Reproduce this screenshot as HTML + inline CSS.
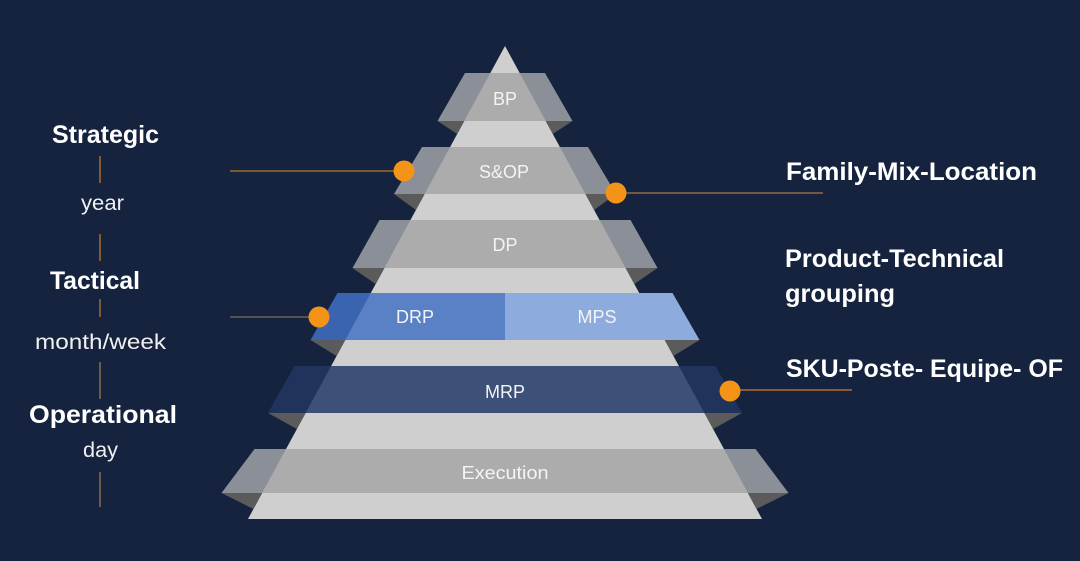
<!DOCTYPE html>
<html>
<head>
<meta charset="utf-8">
<style>
html,body{margin:0;padding:0;background:#15233f;}
svg{display:block;}
text{font-family:"Liberation Sans",sans-serif;}
</style>
</head>
<body>
<svg width="1080" height="561" viewBox="0 0 1080 561" xmlns="http://www.w3.org/2000/svg">
<rect x="0" y="0" width="1080" height="561" fill="#15233f"/>

<!-- pyramid -->
<polygon points="505,46 762,519 248,519" fill="#d0cfcf"/>

<!-- shadows (gray) -->
<g fill="#5b5b5b">
  <!-- BP -->
  <polygon points="437.5,121 464.25,121 457.19,134"/>
  <polygon points="572.5,121 545.75,121 552.81,134"/>
  <!-- S&OP -->
  <polygon points="394,194 424.59,194 415.89,210"/>
  <polygon points="616,194 585.41,194 594.11,210"/>
  <!-- DP -->
  <polygon points="352.5,268 384.38,268 375.69,284"/>
  <polygon points="657.5,268 625.62,268 634.31,284"/>
  <!-- DRP/MPS -->
  <polygon points="310.5,340 345.26,340 336.56,356"/>
  <polygon points="699.5,340 664.74,340 673.44,356"/>
  <!-- MRP -->
  <polygon points="268,413 305.59,413 296.90,429"/>
  <polygon points="742,413 704.41,413 713.10,429"/>
  <!-- Execution -->
  <polygon points="221.5,493 262.13,493 253.43,509"/>
  <polygon points="788.5,493 747.87,493 756.57,509"/>
</g>

<!-- BP band -->
<polygon points="465,73 545,73 572.5,121 437.5,121" fill="#8b8f98"/>
<polygon points="490.33,73 519.67,73 545.75,121 464.25,121" fill="#acacac"/>
<!-- S&OP band -->
<polygon points="422,147 588,147 616,194 394,194" fill="#8b8f98"/>
<polygon points="450.12,147 559.88,147 585.41,194 424.59,194" fill="#acacac"/>
<!-- DP band -->
<polygon points="379.5,220 630.5,220 657.5,268 352.5,268" fill="#8b8f98"/>
<polygon points="410.46,220 599.54,220 625.62,268 384.38,268" fill="#acacac"/>
<!-- DRP / MPS band -->
<polygon points="337.5,293 505,293 505,340 310.5,340" fill="#3b64b0"/>
<polygon points="370.80,293 505,293 505,340 345.26,340" fill="#5a80c5"/>
<polygon points="505,293 672.5,293 699.5,340 505,340" fill="#8eabdd"/>
<!-- MRP band -->
<polygon points="294.5,366 715.5,366 742,413 268,413" fill="#1f335d"/>
<polygon points="331.13,366 678.87,366 704.41,413 305.59,413" fill="#3d5078"/>
<!-- Execution band -->
<polygon points="254.5,449 755.5,449 788.5,493 221.5,493" fill="#8b8f98"/>
<polygon points="286.03,449 723.97,449 747.87,493 262.13,493" fill="#acacac"/>

<!-- band labels -->
<g fill="#f4f4f4" font-size="18" text-anchor="middle">
  <text x="505" y="105">BP</text>
  <text x="504" y="178">S&amp;OP</text>
  <text x="505" y="251">DP</text>
  <text x="415" y="323">DRP</text>
  <text x="597" y="323">MPS</text>
  <text x="505" y="398">MRP</text>
  <text x="505" y="479" textLength="87" lengthAdjust="spacingAndGlyphs">Execution</text>
</g>

<!-- connector lines -->
<line x1="230" y1="171" x2="404" y2="171" stroke="#a0672e" stroke-width="1.6"/>
<line x1="230" y1="317" x2="319" y2="317" stroke="#9c7c5c" stroke-width="1"/>
<line x1="616" y1="193" x2="823" y2="193" stroke="#b07840" stroke-width="1.2"/>
<line x1="730" y1="390" x2="852" y2="390" stroke="#9a6232" stroke-width="1.8"/>

<!-- dots -->
<g fill="#f39318">
  <circle cx="404" cy="171" r="10.5"/>
  <circle cx="616" cy="193" r="10.5"/>
  <circle cx="319" cy="317" r="10.5"/>
  <circle cx="730" cy="391" r="10.5"/>
</g>

<!-- left vertical lines -->
<g stroke-width="1.3">
  <line x1="100" y1="156" x2="100" y2="183" stroke="#c07a28"/>
  <line x1="100" y1="234" x2="100" y2="261" stroke="#c07a28"/>
  <line x1="100" y1="299" x2="100" y2="317" stroke="#b07a3a"/>
  <line x1="100" y1="362" x2="100" y2="399" stroke="#9a7a58"/>
  <line x1="100" y1="472" x2="100" y2="507" stroke="#9a7a58"/>
</g>

<!-- left labels -->
<g fill="#ffffff">
  <text x="52" y="143" font-size="25" font-weight="bold" textLength="107" lengthAdjust="spacingAndGlyphs">Strategic</text>
  <text x="81" y="210" font-size="21" fill="#f0f0f0" textLength="43" lengthAdjust="spacingAndGlyphs">year</text>
  <text x="50" y="289" font-size="25" font-weight="bold" textLength="90" lengthAdjust="spacingAndGlyphs">Tactical</text>
  <text x="35" y="349" font-size="21" fill="#f0f0f0" textLength="131" lengthAdjust="spacingAndGlyphs">month/week</text>
  <text x="29" y="423" font-size="25" font-weight="bold" textLength="148" lengthAdjust="spacingAndGlyphs">Operational</text>
  <text x="83" y="457" font-size="21" fill="#f0f0f0" textLength="35" lengthAdjust="spacingAndGlyphs">day</text>
</g>

<!-- right labels -->
<g fill="#ffffff" font-weight="bold" font-size="25">
  <text x="786" y="180" textLength="251" lengthAdjust="spacingAndGlyphs">Family-Mix-Location</text>
  <text x="785" y="267" textLength="219" lengthAdjust="spacingAndGlyphs">Product-Technical</text>
  <text x="785" y="302" textLength="110" lengthAdjust="spacingAndGlyphs">grouping</text>
  <text x="786" y="377" textLength="277" lengthAdjust="spacingAndGlyphs">SKU-Poste- Equipe- OF</text>
</g>
</svg>
</body>
</html>
